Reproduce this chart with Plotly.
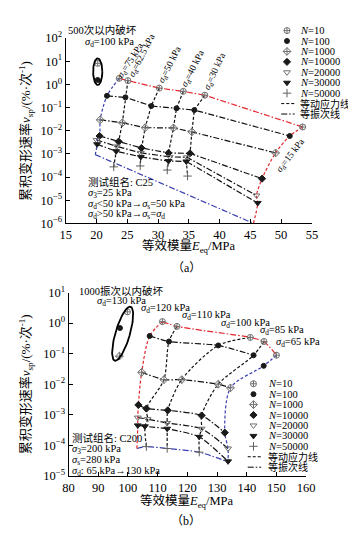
import numpy as np
import plotly.graph_objects as go

W, H = 356, 537

# ================= (a) test group C25 =================
a_stress = ["75", "62.5", "50", "40", "30", "15"]          # sigma_d (kPa), columns
a_N = [10, 100, 1000, 10000, 20000, 30000, 50000]          # rows
a_E_N10 = [23.7, 25.1, 30.2, 34.1, 37.6, 53.5]
a_v_N10 = [1.82, 1.45, 0.69, 0.50, 0.34, 1.45e-2]
a_E_N100 = [21.7, 24.7, 28.9, 33.0, 35.9, 51.4]
a_v_N100 = [0.32, 0.275, 0.117, 0.093, 0.078, 5.9e-3]
a_E_N1000 = [20.6, 24.2, 27.9, 32.5, 35.5, 49.1]
a_v_N1000 = [2.95e-2, 2.2e-2, 1.35e-2, 1.32e-2, 8.9e-3, 1.1e-3]
a_E_N10000 = [20.5, 23.6, 27.3, 31.7, 35.2, 46.9]
a_v_N10000 = [5.9e-3, 3.4e-3, 1.8e-3, 1.1e-3, 1.05e-3, 8.5e-5]
a_E_N20000 = [20.0, 23.3, 27.2, 31.9, 34.7, 46.0]
a_v_N20000 = [4.0e-3, 2.1e-3, 1.1e-3, 7.4e-4, 7.1e-4, 1.6e-5]
a_E_N30000 = [20.1, 23.2, 27.2, 31.7, 34.6, 46.2]
a_v_N30000 = [2.6e-3, 1.3e-3, 7.4e-4, 4.9e-4, 4.7e-4, 7.6e-6]
a_E_N50000 = [19.8, 22.8, 27.1, 31.5, 34.8, 45.5]
a_v_N50000 = [9.3e-4, 2.75e-4, 3.0e-4, 2.0e-4, 1.1e-4, 1.0e-6]
a_fail_E = [20.2, 20.2]          # sigma_d = 100 kPa (N=10, N=100)
a_fail_v = [8.1, 1.55]

# ================= (b) test group C200 =================
b_stress = ["120", "110", "100", "85", "65"]
b_E_N10 = [111.6, 116.5, 141.2, 145.8, 150.0]
b_v_N10 = [1.12, 0.78, 0.34, 0.25, 0.089]
b_E_N100 = [107.3, 113.8, 130.4, 142.3, 145.7]
b_v_N100 = [0.38, 0.25, 0.186, 0.089, 0.040]
b_E_N1000 = [104.6, 112.1, 118.1, 130.4, 134.5]
b_v_N1000 = [2.45e-2, 1.41e-2, 1.41e-2, 1.0e-2, 7.6e-3]
b_E_N10000 = [103.5, 106.2, 113.4, 124.8, 132.6]
b_v_N10000 = [2.1e-3, 1.6e-3, 1.4e-3, 9.5e-4, 2.6e-4]
b_E_N20000 = [103.3, 106.6, 113.2, 124.8, 133.7]
b_v_N20000 = [8.1e-4, 7.2e-4, 5.4e-4, 3.5e-4, 7.9e-5]
b_E_N30000 = [103.3, 105.7, 113.2, 124.0, 133.7]
b_v_N30000 = [4.5e-4, 4.2e-4, 3.5e-4, 1.9e-4, 3.0e-5]
b_E_N50000 = [103.0, 106.2, 113.2, 124.0, 133.7]
b_v_N50000 = [7.9e-5, 9.1e-5, 7.9e-5, 6.0e-5, 2.9e-5]
b_fail_E = [99.8, 97.3, 97.1]    # sigma_d = 130 kPa (N=10, 100, 1000)
b_fail_v = [2.34, 0.69, 0.083]

# tick labels
a_xticks = [15, 20, 25, 30, 35, 40, 45, 50, 55]
a_yexp = [-6, -5, -4, -3, -2, -1, 0, 1, 2]
b_xticks = [80, 90, 100, 110, 120, 130, 140, 150, 160]
b_yexp = [-5, -4, -3, -2, -1, 0, 1]
N_labels = ["<i>N</i>=10", "<i>N</i>=100", "<i>N</i>=1000", "<i>N</i>=10000",
            "<i>N</i>=20000", "<i>N</i>=30000", "<i>N</i>=50000"]
line_labels = ["等动应力线", "等振次线"]

# ---------------- styles ----------------
FONT = "Liberation Serif, Noto Sans CJK SC, serif"
RED = "#e3262c"
BLUE = "#3a3fae"
BLACK = "#111111"
DASH = "3px,2px"
DASHDOT = "6px,2px,1.5px,2px"
N_sym = ["circle-cross-open", "circle", "diamond-cross-open", "diamond",
         "triangle-down-open", "triangle-down", "cross-thin-open"]
N_col = ["#707070", "#1a1a1a", "#707070", "#1a1a1a", "#707070", "#1a1a1a", "#606060"]
N_size = [6, 5, 6, 5.5, 6, 6, 6]

# plot areas in pixels
A_L, A_R, A_T, A_B = 54, 311, 21.7, 212.7
B_L, B_R, B_T, B_B = 57, 305, 284, 473

a_E = [a_E_N10, a_E_N100, a_E_N1000, a_E_N10000, a_E_N20000, a_E_N30000, a_E_N50000]
a_v = [a_v_N10, a_v_N100, a_v_N1000, a_v_N10000, a_v_N20000, a_v_N30000, a_v_N50000]
b_E = [b_E_N10, b_E_N100, b_E_N1000, b_E_N10000, b_E_N20000, b_E_N30000, b_E_N50000]
b_v = [b_v_N10, b_v_N100, b_v_N1000, b_v_N10000, b_v_N20000, b_v_N30000, b_v_N50000]

fig = go.Figure()


def add_line(x, y, color, dash, xa, ya, shape="linear", width=1.2, smoothing=0.8):
    fig.add_trace(go.Scatter(x=x, y=y, mode="lines",
                             line=dict(color=color, dash=dash, width=width,
                                       shape=shape, smoothing=smoothing),
                             xaxis=xa, yaxis=ya, showlegend=False, hoverinfo="skip"))


def add_markers(x, y, r, xa, ya):
    fig.add_trace(go.Scatter(x=x, y=y, mode="markers",
                             marker=dict(symbol=N_sym[r], color=N_col[r], size=N_size[r],
                                         line=dict(color=N_col[r], width=1)),
                             xaxis=xa, yaxis=ya, showlegend=False, hoverinfo="skip"))


# ----- (a) lines -----
nA = len(a_stress)
for r in range(len(a_N)):
    cols = list(range(nA))
    color = BLACK
    if r == 0:
        color = RED
    elif r == len(a_N) - 1:
        color = BLUE
        cols = [0, nA - 1]
    add_line([a_E[r][c] for c in cols], [a_v[r][c] for c in cols], color, DASHDOT, "x", "y")
for c in range(nA):
    color = BLUE if c == 0 else (RED if c == nA - 1 else BLACK)
    shape = "spline" if c in (0, nA - 1) else "linear"
    add_line([a_E[r][c] for r in range(len(a_N))], [a_v[r][c] for r in range(len(a_N))],
             color, DASH, "x", "y", shape=shape)
for r in range(len(a_N)):
    cols = range(1, nA - 1) if r == len(a_N) - 1 else range(nA)
    add_markers([a_E[r][c] for c in cols], [a_v[r][c] for c in cols], r, "x", "y")
for i in range(len(a_fail_E)):
    add_markers([a_fail_E[i]], [a_fail_v[i]], i, "x", "y")

# ----- (b) lines -----
nB = len(b_stress)
for r in range(len(a_N)):
    cols = list(range(nB))
    color = BLACK
    if r == 0:
        color = RED
    elif r == len(a_N) - 1:
        color = BLUE
    elif r == 1:
        cols = list(range(nB - 1))
    add_line([b_E[r][c] for c in cols], [b_v[r][c] for c in cols], color, DASHDOT,
             "x2", "y2", shape="spline", smoothing=0.6)
for c in range(nB):
    color = RED if c == 0 else (BLUE if c == nB - 1 else BLACK)
    add_line([b_E[r][c] for r in range(len(a_N))], [b_v[r][c] for r in range(len(a_N))],
             color, DASH, "x2", "y2", shape="spline", smoothing=0.8)
for r in range(len(a_N)):
    cols = range(1, nB - 1) if r == len(a_N) - 1 else range(nB)
    add_markers([b_E[r][c] for c in cols], [b_v[r][c] for c in cols], r, "x2", "y2")
for i in range(len(b_fail_E)):
    add_markers([b_fail_E[i]], [b_fail_v[i]], i, "x2", "y2")


# ----- failure ellipses (pixel-space ellipse mapped through axis scales) -----
def ellipse(cx, cv, rx, ry, ang, sx, sy, xa, ya):
    t = np.linspace(0, 2 * np.pi, 80)
    dx, dy = rx * np.cos(t), ry * np.sin(t)
    a = np.radians(ang)
    xr = dx * np.cos(a) - dy * np.sin(a)
    yr = dx * np.sin(a) + dy * np.cos(a)
    fig.add_trace(go.Scatter(x=cx + xr / sx, y=10 ** (np.log10(cv) + yr / sy), mode="lines",
                             line=dict(color="black", width=1.8), xaxis=xa, yaxis=ya,
                             showlegend=False, hoverinfo="skip"))


sxA = (A_R - A_L) / (a_xticks[-1] - a_xticks[0])
syA = (A_B - A_T) / (a_yexp[-1] - a_yexp[0])
sxB = (B_R - B_L) / (b_xticks[-1] - b_xticks[0])
syB = (B_B - B_T) / (b_yexp[-1] - b_yexp[0])
ellipse(np.mean(a_fail_E), np.sqrt(a_fail_v[0] * a_fail_v[1]), 4.8, 13.7, 0, sxA, syA, "x", "y")
ellipse(98.2, 0.45, 7.5, 29, -16.6, sxB, syB, "x2", "y2")

# ----- manual legends on a pixel overlay axis -----
ann = []


def txt(s, x, y, size=11, xanchor="center", angle=0, yanchor="middle"):
    ann.append(dict(text=s, x=x, y=y, xref="x3", yref="y3", showarrow=False,
                    xanchor=xanchor, yanchor=yanchor, textangle=angle,
                    font=dict(family=FONT, size=size, color="black")))


def legend(xs, xt, y0, dy):
    for i, lab in enumerate(N_labels):
        yy = y0 + i * dy
        fig.add_trace(go.Scatter(x=[xs], y=[yy], mode="markers",
                                 marker=dict(symbol=N_sym[i], color=N_col[i], size=N_size[i],
                                             line=dict(color=N_col[i], width=1)),
                                 xaxis="x3", yaxis="y3", showlegend=False, hoverinfo="skip"))
        txt(lab, xt, yy, 10.5, "left")
    for j, (lab, d) in enumerate(zip(line_labels, [DASH, DASHDOT])):
        yy = y0 + (len(N_labels) + j) * dy
        fig.add_trace(go.Scatter(x=[xs - 6, xs + 8], y=[yy, yy], mode="lines",
                                 line=dict(color="black", width=1, dash=d),
                                 xaxis="x3", yaxis="y3", showlegend=False, hoverinfo="skip"))
        txt(lab, xt, yy, 10, "left")


legend(285, 297, 14, 10.75)
legend(250, 263, 378, 10.75)

# ----- text (a) -----
sd = "<i>σ</i><sub>d</sub>"
txt("500次以内破坏", 92, 13, 10.5)
txt(sd + "=100 kPa", 100, 26, 10.5)
for lab, (x, y, ang) in zip(a_stress, [(122, 45, -57), (134, 40, -63), (163, 49, -63),
                                      (187, 53, -63), (209.7, 56, -65), (289, 143, -52)]):
    txt(sd + "=" + lab + " kPa", x, y, 9.5, angle=ang)
txt("测试组名: C25", 75, 170, 10.5, "left")
txt("<i>σ</i><sub>3</sub>=25 kPa", 75, 181.5, 10.5, "left")
txt(sd + "&lt;50 kPa→<i>σ</i><sub>s</sub>=50 kPa", 75, 193, 10.5, "left")
txt(sd + "&gt;50 kPa→<i>σ</i><sub>s</sub>=" + sd, 75, 204, 10.5, "left")
txt("等效模量<i>E</i><sub>eq</sub>/MPa", 182, 237, 12.5)
txt("累积变形速率<i>v</i><sub>sp</sub>/(%·次<sup>-1</sup>)", 12, 117, 13, angle=-90)
txt("（a）", 180, 259, 12)

# ----- text (b) -----
txt("1000振次以内破坏", 112, 282, 10.5)
txt(sd + "=130 kPa", 112, 293.5, 10.5)
for lab, (x, y) in zip(b_stress, [(158, 300), (201, 308), (242, 315.5), (280, 323.5), (296, 335)]):
    txt(sd + "=" + lab + " kPa", x, y, 10.5)
txt("测试组名: C200", 58, 434, 10.5, "left")
txt("<i>σ</i><sub>3</sub>=200 kPa", 58, 445.5, 10.5, "left")
txt("<i>σ</i><sub>s</sub>=280 kPa", 58, 457, 10.5, "left")
txt(sd + ": 65 kPa→130 kPa", 58, 468, 10.5, "left")
txt("等效模量<i>E</i><sub>eq</sub>/MPa", 180, 499, 12.5)
txt("累积变形速率<i>v</i><sub>sp</sub>/(%·次<sup>-1</sup>)", 12, 378, 13, angle=-90)
txt("（b）", 180, 519, 12)


def pow_text(e):
    return "10<sup>" + (str(e) if e >= 0 else "−" + str(-e)) + "</sup>"


axis_common = dict(showline=True, linecolor="black", linewidth=1, ticks="inside", ticklen=4,
                   tickcolor="black", showgrid=False, zeroline=False, mirror=False,
                   tickfont=dict(family=FONT, size=12.5, color="black"), fixedrange=True)

fig.update_layout(
    width=W, height=H, margin=dict(l=0, r=0, t=0, b=0),
    paper_bgcolor="white", plot_bgcolor="rgba(0,0,0,0)", showlegend=False,
    xaxis=dict(domain=[A_L / W, A_R / W], range=[a_xticks[0], a_xticks[-1]],
               tickvals=a_xticks, anchor="y", **axis_common),
    yaxis=dict(domain=[1 - A_B / H, 1 - A_T / H], type="log", range=[a_yexp[0], a_yexp[-1]],
               tickvals=[10.0 ** e for e in a_yexp], ticktext=[pow_text(e) for e in a_yexp],
               anchor="x", **axis_common),
    xaxis2=dict(domain=[B_L / W, B_R / W], range=[b_xticks[0], b_xticks[-1]],
                tickvals=b_xticks, anchor="y2", **axis_common),
    yaxis2=dict(domain=[1 - B_B / H, 1 - B_T / H], type="log", range=[b_yexp[0], b_yexp[-1]],
                tickvals=[10.0 ** e for e in b_yexp], ticktext=[pow_text(e) for e in b_yexp],
                anchor="x2", **axis_common),
    xaxis3=dict(domain=[0, 1], range=[0, W], visible=False, anchor="y3", fixedrange=True),
    yaxis3=dict(domain=[0, 1], range=[H, 0], visible=False, anchor="x3", fixedrange=True),
    annotations=ann,
)

fig.write_html("out.html")
